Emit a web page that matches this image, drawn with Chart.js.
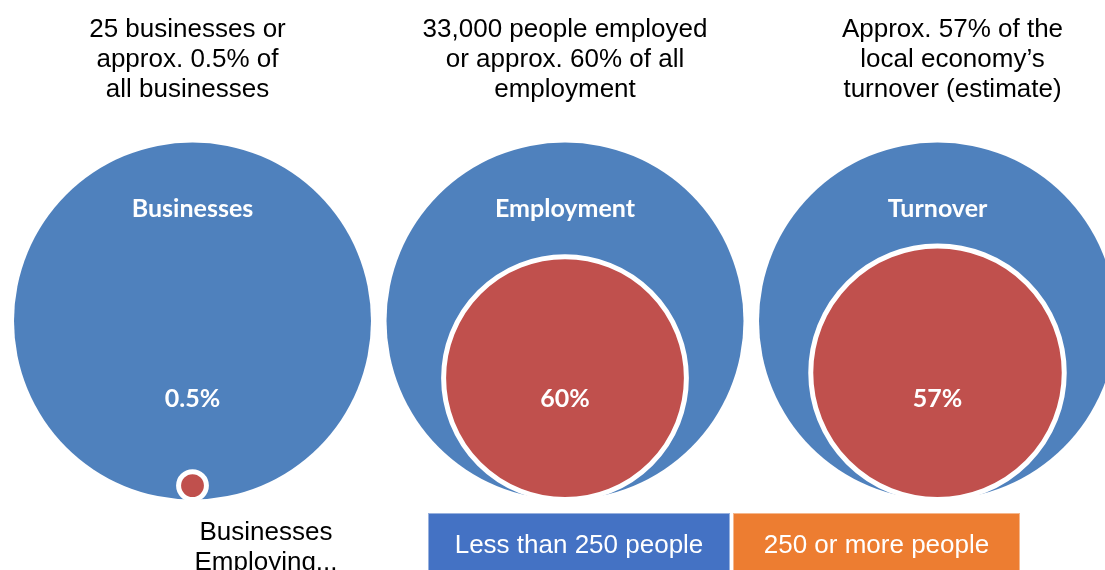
<!DOCTYPE html>
<html lang="en">
<head>
  <meta charset="UTF-8">
  <title>Large businesses share</title>
  <script src="https://cdn.jsdelivr.net/npm/chart.js@4"></script>
  <style>
    html, body {
      margin: 0;
      padding: 0;
      background: #fff;
      overflow: hidden;
    }
    .wrap {
      position: relative;
      width: 1105px;
      height: 570px;
    }
  </style>
</head>
<body>
<div class="wrap">
  <canvas id="circles"></canvas>
</div>

<script>
  // Data
  const categories = ['Businesses', 'Employment', 'Turnover'];
  const shareLabels = ['0.5%', '60%', '57%'];
  const outerSize = [100, 100, 100];      // whole = 100
  const innerSize = [7.8, 68, 71];        // inner circle radius, % of the outer one
  const headlines = [
    ['25 businesses or', 'approx. 0.5% of', 'all businesses'],
    ['33,000 people employed', 'or approx. 60% of all', 'employment'],
    ['Approx. 57% of the', 'local economy\u2019s', 'turnover (estimate)']
  ];
  const legendTitle = ['Businesses', 'Employing...'];
  const legendLabels = ['Less than 250 people', '250 or more people'];

  // Layout
  const UNIT = 372.5;            // px per category step (same on both axes)
  const R_PX = 178.5;            // outer circle radius in px
  const R_UNITS = R_PX / UNIT;
  const CENTER_Y = 321;          // px from top of the circle centres
  const headlineShift = [-5, 0, 15];
  const blue = '#4F81BD', red = '#C0504D';
  const legendColors = ['#4472C4', '#ED7D31'];

  const outerPoints = categories.map((c, i) => ({ x: i, y: 0, r: R_PX * outerSize[i] / 100 }));
  const innerPoints = categories.map((c, i) => {
    const rel = innerSize[i] / outerSize[i];
    return { x: i, y: -R_UNITS * (1 - rel), r: R_PX * rel };
  });

  const labelsPlugin = {
    id: 'labels',
    afterDatasetsDraw(chart) {
      const ctx = chart.ctx;
      const xs = chart.scales.x, ys = chart.scales.y;
      const cy = ys.getPixelForValue(0);
      ctx.save();
      ctx.textAlign = 'center';
      ctx.textBaseline = 'middle';
      ctx.fillStyle = '#fff';
      ctx.font = 'bold 25px Lato, "Open Sans", sans-serif';
      categories.forEach((c, i) => {
        const cx = xs.getPixelForValue(i);
        ctx.fillText(c, cx, cy - 0.627 * R_PX);
        ctx.fillText(shareLabels[i], cx, cy + 0.437 * R_PX);
      });

      // headline text above each circle
      ctx.fillStyle = '#000';
      ctx.textBaseline = 'alphabetic';
      ctx.font = '26px "Liberation Sans", Arial, sans-serif';
      headlines.forEach((lines, i) => {
        const cx = xs.getPixelForValue(i) + headlineShift[i];
        lines.forEach((t, k) => ctx.fillText(t, cx, 37 + k * 30));
      });

      // legend title
      legendTitle.forEach((t, k) => ctx.fillText(t, 266, 540 + k * 30));

      // legend boxes
      const boxes = [[428, 730], [733, 1020]];
      boxes.forEach((b, k) => {
        ctx.fillStyle = legendColors[k];
        ctx.fillRect(b[0], 513, b[1] - b[0], 60);
        ctx.strokeStyle = 'rgba(255,255,255,0.45)';
        ctx.lineWidth = 1;
        ctx.strokeRect(b[0] + 0.5, 513.5, b[1] - b[0] - 1, 60);
        ctx.fillStyle = '#fff';
        ctx.fillText(legendLabels[k], (b[0] + b[1]) / 2, 553);
      });
      ctx.restore();
    }
  };

  const chart = new Chart(document.getElementById('circles'), {
    type: 'bubble',
    data: {
      datasets: [
        {
          label: '250 or more people',
          data: innerPoints,
          backgroundColor: red,
          hoverBackgroundColor: red,
          borderColor: '#fff',
          hoverBorderColor: '#fff',
          borderWidth: 5,
          hoverBorderWidth: 5,
          clip: false,
          order: 1
        },
        {
          label: 'All',
          data: outerPoints,
          backgroundColor: blue,
          hoverBackgroundColor: blue,
          borderWidth: 0,
          hoverBorderWidth: 0,
          clip: false,
          order: 2
        }
      ]
    },
    options: {
      responsive: true,
      maintainAspectRatio: false,
      animation: false,
      events: [],
      layout: { padding: 0, autoPadding: false },
      plugins: {
        legend: { display: false },
        tooltip: { enabled: false }
      },
      scales: {
        x: {
          type: 'linear',
          display: false,
          bounds: 'data',
          min: -192.5 / UNIT,
          max: (1105 - 192.5) / UNIT
        },
        y: {
          type: 'linear',
          display: false,
          bounds: 'data',
          min: -(570 - CENTER_Y) / UNIT,
          max: CENTER_Y / UNIT
        }
      }
    },
    plugins: [labelsPlugin]
  });
</script>
</body>
</html>
